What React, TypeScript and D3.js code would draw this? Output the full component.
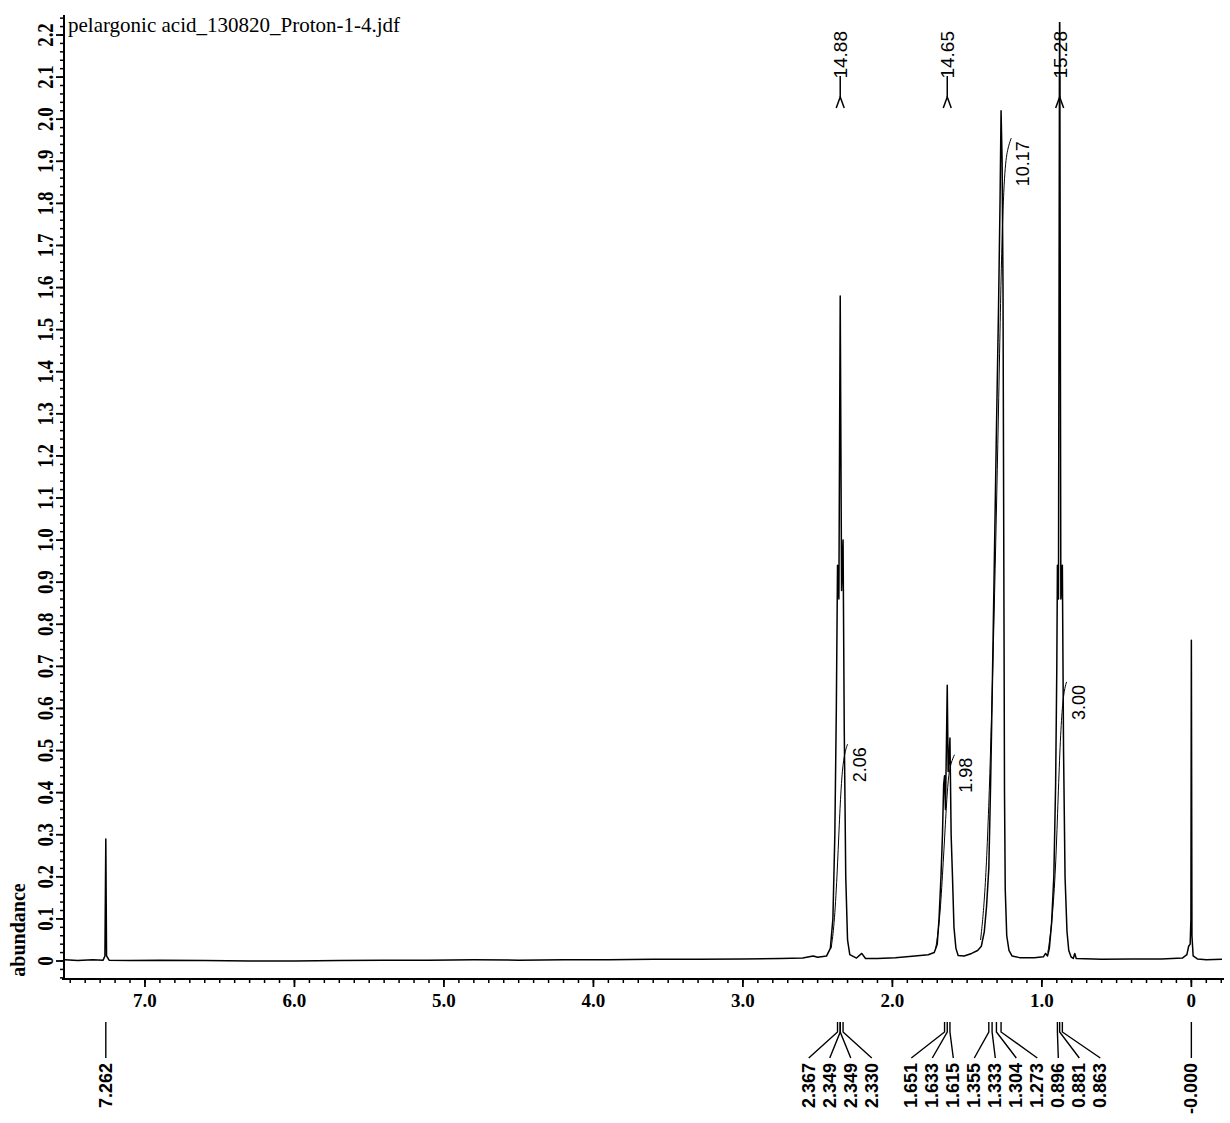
import { useMemo } from 'react'
import * as d3 from 'd3'

const title = 'pelargonic acid_130820_Proton-1-4.jdf'
const yTitle = 'abundance'

// trace, [ppm, abundance]
const spectrum: [number, number][] = [
  [7.535, 0.003], [7.45, 0.001], [7.35, 0.003], [7.28, 0.002], [7.268, 0.012], [7.262, 0.29],
  [7.257, 0.012], [7.24, 0.002], [7.1, 0.001], [6.9, 0.002], [6.6, 0.001], [6.3, 0.0],
  [6.0, 0.0], [5.7, 0.001], [5.4, 0.002], [5.1, 0.002], [4.8, 0.003], [4.5, 0.002],
  [4.2, 0.003], [3.9, 0.003], [3.6, 0.004], [3.3, 0.004], [3.0, 0.005], [2.75, 0.006],
  [2.6, 0.007], [2.53, 0.012], [2.5, 0.009], [2.44, 0.012], [2.415, 0.03], [2.398, 0.1],
  [2.385, 0.3], [2.375, 0.6], [2.367, 0.94], [2.358, 0.86], [2.349, 1.58], [2.34, 0.88],
  [2.33, 1.0], [2.322, 0.55], [2.312, 0.2], [2.3, 0.05], [2.285, 0.015], [2.24, 0.007],
  [2.205, 0.018], [2.18, 0.006], [2.1, 0.006], [1.98, 0.008], [1.85, 0.012], [1.76, 0.015],
  [1.72, 0.02], [1.7, 0.04], [1.688, 0.1], [1.675, 0.2], [1.665, 0.3], [1.657, 0.42],
  [1.651, 0.44], [1.645, 0.36], [1.639, 0.5], [1.633, 0.655], [1.627, 0.45], [1.621, 0.48],
  [1.615, 0.53], [1.607, 0.3], [1.598, 0.2], [1.588, 0.08], [1.575, 0.03], [1.56, 0.013],
  [1.52, 0.012], [1.47, 0.018], [1.43, 0.025], [1.405, 0.035], [1.385, 0.07], [1.37, 0.13],
  [1.355, 0.22], [1.343, 0.42], [1.333, 0.62], [1.318, 0.95], [1.304, 1.26], [1.29, 1.55],
  [1.28, 1.8], [1.273, 2.02], [1.266, 1.9], [1.26, 1.6], [1.255, 1.0], [1.25, 0.4],
  [1.245, 0.17], [1.235, 0.06], [1.22, 0.025], [1.2, 0.012], [1.15, 0.008], [1.05, 0.008],
  [0.99, 0.01], [0.975, 0.018], [0.962, 0.012], [0.95, 0.03], [0.935, 0.09], [0.92, 0.2],
  [0.908, 0.42], [0.9, 0.7], [0.896, 0.94], [0.889, 0.86], [0.881, 2.35], [0.873, 0.86],
  [0.863, 0.94], [0.855, 0.5], [0.845, 0.2], [0.832, 0.07], [0.82, 0.025], [0.805, 0.01],
  [0.79, 0.006], [0.78, 0.018], [0.77, 0.006], [0.6, 0.004], [0.4, 0.005], [0.2, 0.005],
  [0.06, 0.007], [0.03, 0.015], [0.018, 0.035], [0.008, 0.04], [0.003, 0.1], [0.0, 0.762],
  [-0.004, 0.06], [-0.012, 0.012], [-0.04, 0.005], [-0.1, 0.003], [-0.205, 0.004],
]

// integral traces
const integralCurves: [number, number][][] = [
  [[2.41, 0.03], [2.39, 0.08], [2.37, 0.2], [2.355, 0.33], [2.342, 0.42], [2.33, 0.47], [2.315, 0.5], [2.3, 0.515]],
  [[1.71, 0.03], [1.685, 0.09], [1.665, 0.2], [1.645, 0.33], [1.63, 0.42], [1.615, 0.465], [1.585, 0.49]],
  [[1.41, 0.05], [1.38, 0.15], [1.35, 0.4], [1.32, 0.8], [1.29, 1.3], [1.27, 1.7], [1.25, 1.88], [1.23, 1.93], [1.205, 1.955]],
  [[0.96, 0.02], [0.935, 0.08], [0.91, 0.2], [0.895, 0.35], [0.88, 0.5], [0.865, 0.6], [0.85, 0.645], [0.835, 0.663]],
]
const integralValues = ['2.06', '1.98', '10.17', '3.00']

const markerPpm = [2.349, 1.633, 0.881]
const markerValues = ['14.88', '14.65', '15.28']

const peakGroups: string[][] = [
  ['7.262'],
  ['2.367', '2.349', '2.349', '2.330'],
  ['1.651', '1.633', '1.615', '1.355', '1.333', '1.304', '1.273'],
  ['0.896', '0.881', '0.863'],
  ['-0.000'],
]

const xTickLabels = ['7.0', '6.0', '5.0', '4.0', '3.0', '2.0', '1.0', '0']
const yTickLabels = ['0', '0.1', '0.2', '0.3', '0.4', '0.5', '0.6', '0.7', '0.8', '0.9', '1.0', '1.1', '1.2', '1.3', '1.4', '1.5', '1.6', '1.7', '1.8', '1.9', '2.0', '2.1', '2.2']

const serif = '"Liberation Serif", "Times New Roman", serif'
const sans = '"Liberation Sans", Arial, sans-serif'

export default function App() {
  const width = 1230
  const height = 1123
  const axisX = 64
  const axisY = 979
  const plotTop = 22

  const x = useMemo(() => d3.scaleLinear().domain([7.535, -0.205]).range([65, 1222]), [])
  const y = useMemo(() => d3.scaleLinear().domain([0, 2.2]).range([961, 35]), [])

  const trace = d3
    .line<[number, number]>()
    .x((d) => x(d[0]))
    .y((d) => y(d[1]))

  const integral = d3
    .line<[number, number]>()
    .x((d) => x(d[0]))
    .y((d) => y(d[1]))
    .curve(d3.curveBasis)

  const xMinor = d3.range(-2, 76).map((i) => i / 10)
  const yMinor = d3.range(-2, 113).map((i) => i / 50)

  // spread the shift labels under each multiplet, pushing right on collision
  const spacing = 21
  let prevEnd = -Infinity
  const placed = peakGroups.map((group) => {
    const xs = group.map((s) => x(parseFloat(s)))
    const center = d3.mean(xs) ?? 0
    let start = center - ((group.length - 1) * spacing) / 2
    if (start < prevEnd + spacing) start = prevEnd + spacing
    prevEnd = start + (group.length - 1) * spacing
    return group.map((s, i) => ({ text: s, stubX: xs[i], labelX: start + i * spacing }))
  })

  return (
    <svg
      width={width}
      height={height}
      style={{ position: 'absolute', left: 0, top: 0, background: '#fff' }}
    >
      <defs>
        <clipPath id="plot">
          <rect x={axisX} y={plotTop} width={1230 - axisX} height={axisY - plotTop} />
        </clipPath>
      </defs>

      <text x={68} y={32} fontFamily={serif} fontSize={21} fill="#000">
        {title}
      </text>

      {/* y axis */}
      <line x1={axisX} x2={axisX} y1={15} y2={axisY} stroke="#000" strokeWidth={2} />
      {yMinor.map((v) => (
        <line key={`ym-${v}`} x1={axisX - 4} x2={axisX} y1={y(v)} y2={y(v)} stroke="#000" strokeWidth={1.5} />
      ))}
      {yTickLabels.map((t) => {
        const v = parseFloat(t)
        return (
          <g key={`yt-${t}`}>
            <line x1={axisX - 8} x2={axisX} y1={y(v)} y2={y(v)} stroke="#000" strokeWidth={1.8} />
            <text
              transform={`translate(53, ${y(v)}) rotate(-90) scale(0.82, 1)`}
              textAnchor="middle"
              fontFamily={serif}
              fontWeight="bold"
              fontSize={23}
              fill="#000"
            >
              {t}
            </text>
          </g>
        )
      })}
      <text
        transform={`translate(25, 930) rotate(-90)`}
        textAnchor="middle"
        fontFamily={serif}
        fontWeight="bold"
        fontSize={20}
        fill="#000"
      >
        {yTitle}
      </text>

      {/* x axis */}
      <line x1={axisX - 2} x2={1224} y1={axisY} y2={axisY} stroke="#000" strokeWidth={2} />
      {xMinor.map((v) => (
        <line key={`xm-${v}`} x1={x(v)} x2={x(v)} y1={axisY} y2={axisY + 4} stroke="#000" strokeWidth={1.5} />
      ))}
      {xTickLabels.map((t) => {
        const v = parseFloat(t)
        return (
          <g key={`xt-${t}`}>
            <line x1={x(v)} x2={x(v)} y1={axisY} y2={axisY + 8} stroke="#000" strokeWidth={1.8} />
            <text
              x={x(v)}
              y={1007}
              textAnchor="middle"
              fontFamily={serif}
              fontWeight="bold"
              fontSize={19}
              fill="#000"
            >
              {t}
            </text>
          </g>
        )
      })}

      {/* spectrum and integrals */}
      <g clipPath="url(#plot)">
        <path d={trace(spectrum) ?? ''} fill="none" stroke="#000" strokeWidth={1.5} strokeLinejoin="round" />
        {integralCurves.map((pts, i) => (
          <path key={`int-${i}`} d={integral(pts) ?? ''} fill="none" stroke="#000" strokeWidth={1} />
        ))}
      </g>

      {integralCurves.map((pts, i) => {
        const end = pts[pts.length - 1]
        return (
          <text
            key={`il-${i}`}
            transform={`translate(${x(end[0]) + 18}, ${y(end[1]) + 3}) rotate(-90)`}
            textAnchor="end"
            fontFamily={sans}
            fontSize={18}
            fill="#000"
          >
            {integralValues[i]}
          </text>
        )
      })}

      {/* group markers along the top */}
      {markerPpm.map((p, i) => {
        const mx = x(p)
        return (
          <g key={`mk-${i}`} stroke="#000" fill="none" strokeWidth={1.5}>
            <text
              transform={`translate(${mx + 7}, 31) rotate(-90)`}
              textAnchor="end"
              fontFamily={sans}
              fontSize={19}
              fill="#000"
              stroke="none"
            >
              {markerValues[i]}
            </text>
            <line x1={mx} x2={mx} y1={76} y2={97} />
            <path d={`M${mx - 4},108 L${mx},97 L${mx + 4},108`} />
          </g>
        )
      })}

      {/* shift labels below the axis */}
      {placed.flat().map((d, i) => (
        <g key={`pk-${i}`}>
          <path
            d={`M${d.stubX},1022 V1032 L${d.labelX},1058`}
            fill="none"
            stroke="#000"
            strokeWidth={1.4}
          />
          <text
            transform={`translate(${d.labelX + 6}, 1063) rotate(-90)`}
            textAnchor="end"
            fontFamily={sans}
            fontWeight="bold"
            fontSize={18}
            fill="#000"
          >
            {d.text}
          </text>
        </g>
      ))}
    </svg>
  )
}
